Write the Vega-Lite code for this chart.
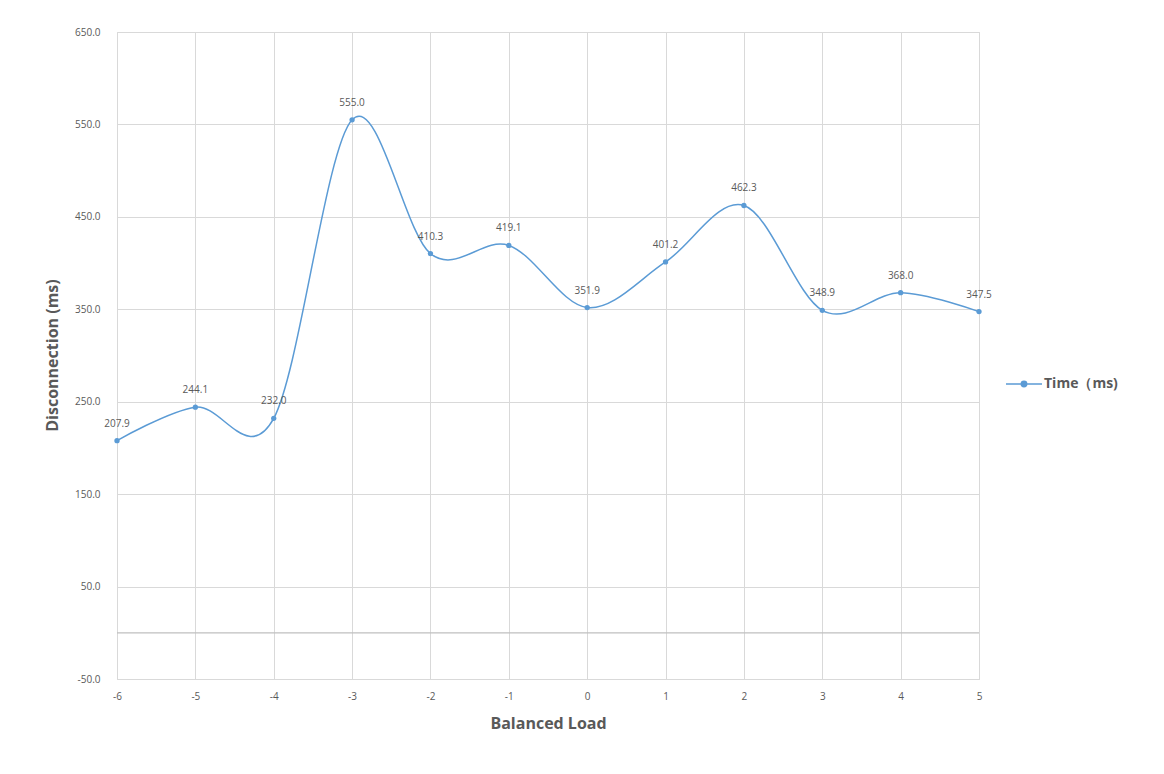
{
  "$schema": "https://vega.github.io/schema/vega-lite/v6.json",
  "width": 862,
  "height": 647,
  "autosize": "none",
  "padding": {"left": 117, "top": 32, "right": 185, "bottom": 95},
  "background": "white",
  "config": {
    "font": "Open Sans",
    "locale": {"number": {"decimal": ".", "thousands": ",", "grouping": [3], "currency": ["$", ""], "minus": "-"}},
    "view": {"stroke": "#d9d9d9", "strokeWidth": 1},
    "axis": {
      "labelColor": "#595959",
      "labelFontSize": 10,
      "titleColor": "#595959",
      "titleFontSize": 16,
      "titleFontWeight": "bold",
      "gridColor": "#d9d9d9",
      "domain": false,
      "ticks": false
    }
  },
  "data": {
    "values": [
      {"load": -6, "time": 207.9, "series": "Time（ms)"},
      {"load": -5, "time": 244.1, "series": "Time（ms)"},
      {"load": -4, "time": 232.0, "series": "Time（ms)"},
      {"load": -3, "time": 555.0, "series": "Time（ms)"},
      {"load": -2, "time": 410.3, "series": "Time（ms)"},
      {"load": -1, "time": 419.1, "series": "Time（ms)"},
      {"load": 0, "time": 351.9, "series": "Time（ms)"},
      {"load": 1, "time": 401.2, "series": "Time（ms)"},
      {"load": 2, "time": 462.3, "series": "Time（ms)"},
      {"load": 3, "time": 348.9, "series": "Time（ms)"},
      {"load": 4, "time": 368.0, "series": "Time（ms)"},
      {"load": 5, "time": 347.5, "series": "Time（ms)"}
    ]
  },
  "encoding": {
    "x": {
      "field": "load",
      "type": "quantitative",
      "scale": {"domain": [-6, 5], "nice": false, "zero": false},
      "axis": {
        "values": [-6, -5, -4, -3, -2, -1, 0, 1, 2, 3, 4, 5],
        "format": "d",
        "title": "Balanced Load",
        "labelPadding": 12,
        "titlePadding": 14,
        "labelFlush": false
      }
    },
    "y": {
      "field": "time",
      "type": "quantitative",
      "scale": {"domain": [-50, 650], "nice": false, "zero": false},
      "axis": {
        "values": [-50, 50, 150, 250, 350, 450, 550, 650],
        "format": ".1f",
        "title": "Disconnection (ms)",
        "labelPadding": 17,
        "titleX": -65,
        "titleY": 323,
        "titleAngle": -90,
        "titleAlign": "center",
        "titleBaseline": "middle"
      }
    }
  },
  "layer": [
    {
      "data": {"values": [{"zero": 0}]},
      "mark": {"type": "rule", "color": "#bfbfbf", "strokeWidth": 1.2},
      "encoding": {"y": {"field": "zero", "type": "quantitative"}, "x": null}
    },
    {
      "mark": {"type": "line", "interpolate": "cardinal", "tension": 0, "strokeWidth": 1.5},
      "encoding": {
        "color": {
          "field": "series",
          "type": "nominal",
          "scale": {"range": ["#5B9BD5"]},
          "legend": {
            "title": null,
            "orient": "none",
            "legendX": 888,
            "legendY": 333,
            "labelFontSize": 14,
            "labelFontWeight": "bold",
            "labelColor": "#595959",
            "symbolType": "M-1,0H1M-0.15,0A0.15,0.15,0,1,1,0.15,0A0.15,0.15,0,1,1,-0.15,0",
            "symbolSize": 1300,
            "symbolStrokeWidth": 1.5,
            "symbolFillColor": "#5B9BD5",
            "labelOffset": 1
          }
        }
      }
    },
    {
      "mark": {"type": "point", "filled": true, "size": 28, "opacity": 1, "color": "#5B9BD5"}
    },
    {
      "mark": {"type": "text", "baseline": "bottom", "dy": -12, "fontSize": 10, "color": "#595959"},
      "encoding": {"text": {"field": "time", "type": "quantitative", "format": ".1f"}}
    }
  ]
}
